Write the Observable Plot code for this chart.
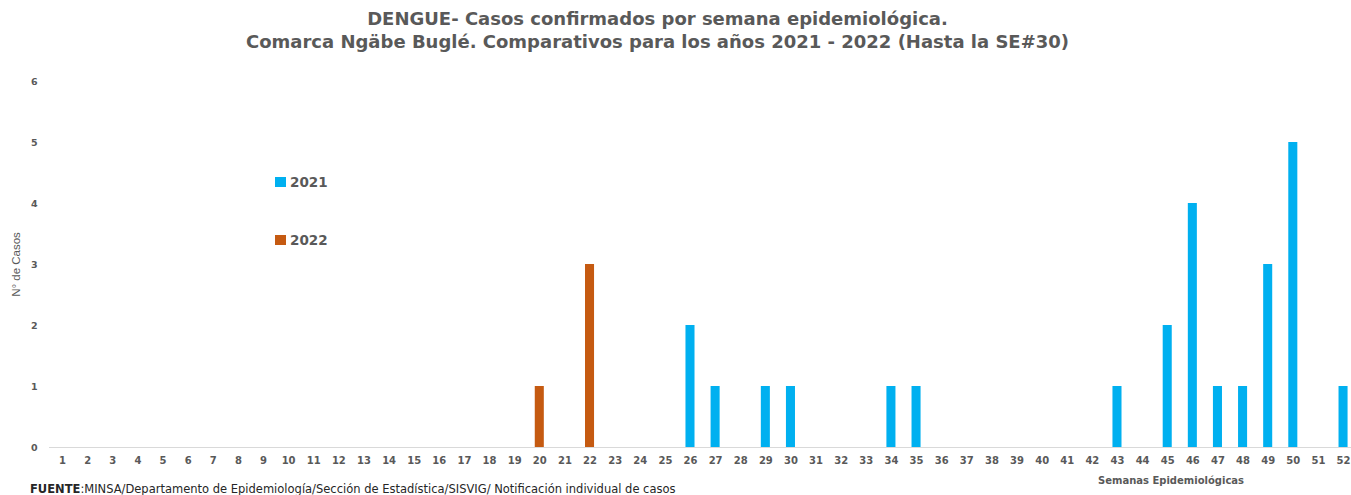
<!DOCTYPE html>
<html><head><meta charset="utf-8">
<script src="https://cdn.jsdelivr.net/npm/d3@7"></script>
<script src="https://cdn.jsdelivr.net/npm/@observablehq/plot@0.6"></script>
<style>
body{margin:0;background:#fff;font-family:"DejaVu Sans",sans-serif;}
#wrap{position:relative;width:1351px;height:495px;overflow:hidden;}
#title{position:absolute;top:7px;left:0;width:1315px;text-align:center;font-weight:bold;font-size:18px;line-height:23px;color:#595959;}
.leg{position:absolute;font-weight:bold;font-size:13.5px;color:#595959;display:flex;align-items:center;}
.leg span.sw{display:inline-block;width:11px;height:10px;margin-right:4px;}
#xt{position:absolute;left:1098px;top:475px;font-size:10px;font-weight:bold;color:#595959;}
#src{position:absolute;left:30px;top:482px;font-size:11.5px;line-height:14px;color:#262626;white-space:nowrap;}
</style></head>
<body><div id="wrap">
<div id="title">DENGUE- Casos confirmados por semana epidemiológica.<br>Comarca Ngäbe Buglé. Comparativos para los años 2021 - 2022 (Hasta la SE#30)</div>
<div id="chart"></div>
<div class="leg" style="left:275px;top:174px"><span class="sw" style="background:#00B0F0"></span>2021</div>
<div class="leg" style="left:275px;top:232px"><span class="sw" style="background:#C55A11"></span>2022</div>
<div id="xt">Semanas Epidemiológicas</div>
<div id="src"><b>FUENTE</b>:MINSA/Departamento de Epidemiología/Sección de Estadística/SISVIG/ Notificación individual de casos</div>
</div>
<script>
const weeks = d3.range(1, 53);
const weeks2021 = [26, 27, 29, 30, 34, 35, 43, 45, 46, 47, 48, 49, 50, 52];
const cases2021 = [2, 1, 1, 1, 1, 1, 1, 2, 4, 1, 1, 3, 5, 1];
const weeks2022 = [20, 22];
const cases2022 = [1, 3];
const yTicks = [0, 1, 2, 3, 4, 5, 6];

const data = [
  ...weeks2021.map((w, i) => ({week: w, cases: cases2021[i], year: "2021"})),
  ...weeks2022.map((w, i) => ({week: w, cases: cases2022[i], year: "2022"}))
];

const chart = Plot.plot({
  width: 1351, height: 495,
  marginTop: 81, marginBottom: 48, marginLeft: 49, marginRight: 0,
  style: {fontFamily: "DejaVu Sans, sans-serif", color: "#595959", background: "#fff"},
  x: {type: "band", domain: weeks, range: [49.5, 1355.6], paddingInner: 0.64, paddingOuter: 0.32, round: false},
  y: {domain: [0, 6]},
  color: {domain: ["2021", "2022"], range: ["#00B0F0", "#C55A11"]},
  marks: [
    Plot.ruleY([0], {stroke: "#d9d9d9", strokeWidth: 1}),
    Plot.barY(data, {x: "week", y: "cases", fill: "year"}),
    Plot.axisY({ticks: yTicks, tickFormat: "d", tickSize: 0, tickPadding: 12, label: null, fontSize: 9.5, fontWeight: "bold", fill: "#595959"}),
    Plot.axisX({tickSize: 0, tickPadding: 9, label: null, fontSize: 10, fontWeight: "bold", fill: "#595959"}),
    Plot.text(["N° de Casos"], {frameAnchor: "left", dx: -33, rotate: -90, textAnchor: "middle", fontSize: 11.5, fill: "#595959", fontFamily: "Liberation Sans Narrow, Liberation Sans, sans-serif"})
  ]
});
document.getElementById("chart").appendChild(chart);
</script>
</body></html>
